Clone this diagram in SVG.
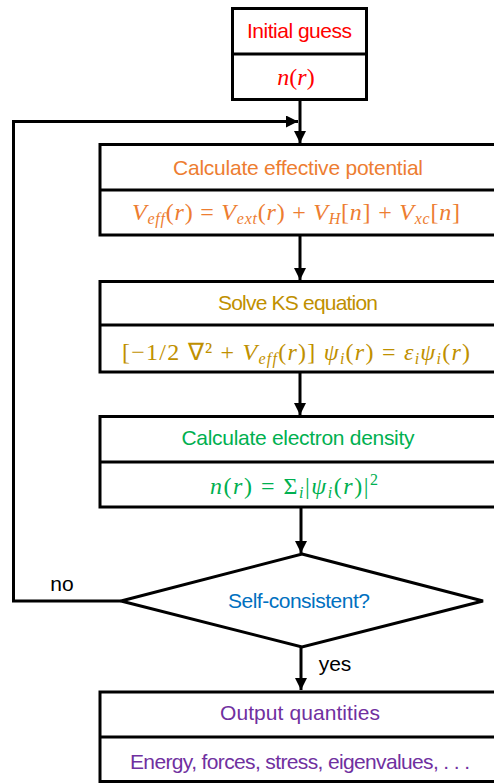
<svg xmlns="http://www.w3.org/2000/svg" width="494" height="784" viewBox="0 0 494 784">
<style>
.box{fill:#fff;stroke:#000;stroke-width:3}
.div{stroke:#000;stroke-width:3}
.con{fill:none;stroke:#000;stroke-width:3}
.lbl{font-family:"Liberation Sans",Arial,sans-serif;font-size:21px;text-anchor:middle}
.m{font-family:"Liberation Serif","Times New Roman",serif;font-size:24px;text-anchor:middle}
.i{font-style:italic}
.s{font-size:16px}
</style>
<defs>
<marker id="ah" markerUnits="userSpaceOnUse" markerWidth="12" markerHeight="12" refX="12" refY="6" orient="auto">
<path d="M0,0 L12,6 L0,12 z" fill="#000"/>
</marker>
</defs>
<rect width="494" height="784" fill="#fff"/>
<g id="connectors">
<path class="con" d="M300,100 V143" marker-end="url(#ah)"/>
<path class="con" d="M121,601 H13.5 V121.5 H298" marker-end="url(#ah)"/>
<path class="con" d="M300,236 V280" marker-end="url(#ah)"/>
<path class="con" d="M300,373 V415" marker-end="url(#ah)"/>
<path class="con" d="M301,508 V553" marker-end="url(#ah)"/>
<path class="con" d="M301,647 V690" marker-end="url(#ah)"/>
</g>
<g id="initial">
<rect class="box" x="232.5" y="8.5" width="134" height="91"/>
<line class="div" x1="232.5" y1="54" x2="366.5" y2="54"/>
<text class="lbl" x="299.5" y="38" fill="#FF0000" textLength="105">Initial guess</text>
<text class="m" x="296" y="85" fill="#FF0000"><tspan class="i">n</tspan>(<tspan class="i">r</tspan>)</text>
</g>
<g id="potential">
<rect class="box" x="100" y="144.5" width="400" height="90.5"/>
<line class="div" x1="100" y1="190" x2="500" y2="190"/>
<text class="lbl" x="298" y="175" fill="#ED7D31" textLength="250">Calculate effective potential</text>
<text class="m" x="296" y="220" fill="#ED7D31" textLength="328"><tspan class="i">V</tspan><tspan class="i s" dy="4">eff</tspan><tspan dy="-4">(</tspan><tspan class="i">r</tspan>) = <tspan class="i">V</tspan><tspan class="i s" dy="4">ext</tspan><tspan dy="-4">(</tspan><tspan class="i">r</tspan>) + <tspan class="i">V</tspan><tspan class="i s" dy="4">H</tspan><tspan dy="-4">[</tspan><tspan class="i">n</tspan>] + <tspan class="i">V</tspan><tspan class="i s" dy="4">xc</tspan><tspan dy="-4">[</tspan><tspan class="i">n</tspan>]</text>
</g>
<g id="ks">
<rect class="box" x="100" y="281.5" width="400" height="90.5"/>
<line class="div" x1="100" y1="325" x2="500" y2="325"/>
<text class="lbl" x="298" y="310" fill="#BF9000" textLength="160">Solve KS equation</text>
<text class="m" x="296" y="360" fill="#BF9000" textLength="348">[−1/2 ∇² + <tspan class="i">V</tspan><tspan class="i s" dy="4">eff</tspan><tspan dy="-4">(</tspan><tspan class="i">r</tspan>)] <tspan class="i">ψ</tspan><tspan class="i s" dy="4">i</tspan><tspan dy="-4">(</tspan><tspan class="i">r</tspan>) = <tspan class="i">ε</tspan><tspan class="i s" dy="4">i</tspan><tspan class="i" dy="-4">ψ</tspan><tspan class="i s" dy="4">i</tspan><tspan dy="-4">(</tspan><tspan class="i">r</tspan>)</text>
</g>
<g id="density">
<rect class="box" x="100" y="416.5" width="400" height="90.5"/>
<line class="div" x1="100" y1="462" x2="500" y2="462"/>
<text class="lbl" x="298" y="445" fill="#00B050" textLength="233">Calculate electron density</text>
<text class="m" x="294" y="494" fill="#00B050" textLength="168"><tspan class="i">n</tspan>(<tspan class="i">r</tspan>) = Σ<tspan class="i s" dy="4">i</tspan><tspan dy="-4">|</tspan><tspan class="i">ψ</tspan><tspan class="i s" dy="4">i</tspan><tspan dy="-4">(</tspan><tspan class="i">r</tspan>)|<tspan class="s" dy="-9">2</tspan></text>
</g>
<g id="decision">
<polygon class="box" points="302,554 483,601 302,647 121,601"/>
<text class="lbl" x="299" y="608" fill="#0070C0" textLength="142">Self-consistent?</text>
</g>
<text class="lbl" x="62" y="591" fill="#000">no</text>
<text class="lbl" x="335" y="671" fill="#000">yes</text>
<g id="output">
<rect class="box" x="100" y="692" width="400" height="89.5"/>
<line class="div" x1="100" y1="737" x2="500" y2="737"/>
<text class="lbl" x="300" y="720" fill="#7030A0" textLength="160">Output quantities</text>
<text class="lbl" x="300" y="769" fill="#7030A0" textLength="340">Energy, forces, stress, eigenvalues, . . .</text>
</g>
</svg>
